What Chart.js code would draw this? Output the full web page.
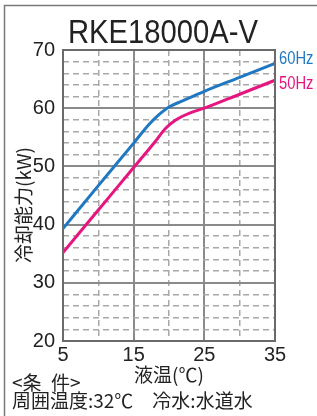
<!DOCTYPE html>
<html>
<head>
<meta charset="utf-8">
<script src="https://cdn.jsdelivr.net/npm/chart.js@4"></script>
<style>
  html, body { margin: 0; padding: 0; background: #fff; }
  #wrap { width: 317px; height: 416px; }
</style>
</head>
<body>
<div id="wrap"><canvas id="chart" width="317" height="416"></canvas></div>
<script>
// values
const tempX = [5, 10, 15, 17, 18.5, 20, 22, 25, 30, 35]
const cap60 = [39.3, 46.7, 54.0, 57.0, 58.8, 60.2, 61.3, 62.9, 65.3, 67.7]
const tempX50 = [5, 10, 15, 18, 19.5, 21, 23, 25, 30, 35]
const cap50 = [35.2, 42.5, 49.8, 54.2, 56.5, 58.0, 59.2, 60.0, 62.4, 64.8]
const seriesNames = ['60Hz', '50Hz']
const seriesColors = ['#1f78c1', '#e6157f']

const titleText = 'RKE18000A-V'
const yTitle = '冷却能力(kW)'
const xTitle = '液温(℃)'
const noteLines = ['<条\u2002件>', '周囲温度:32℃　冷水:水道水']

const latin = '"Liberation Sans", Arial, sans-serif'
const cjk = '"Noto Sans CJK JP", sans-serif'

// text and frame drawn on top of the chart
const decor = {
    id: 'decor',
    afterDatasetsDraw(chart) {
        const ctx = chart.ctx
        const a = chart.chartArea
        ctx.save()
        // plot border
        ctx.strokeStyle = '#6a6a6a'
        ctx.lineWidth = 2
        ctx.strokeRect(a.left, a.top, a.right - a.left, a.bottom - a.top)
        // outer frame
        ctx.strokeStyle = '#7a7a7a'
        ctx.lineWidth = 1.5
        ctx.strokeRect(4.5, 5.5, 400, 500)

        ctx.fillStyle = '#222'
        // title (narrow look)
        ctx.save()
        ctx.font = '34px ' + latin
        ctx.textAlign = 'center'
        ctx.textBaseline = 'alphabetic'
        ctx.translate(163, 43)
        ctx.scale(0.86, 1)
        ctx.fillText(titleText, 0, 0)
        ctx.restore()

        // series labels at the right end
        const ys = chart.scales.y
        const ends = [cap60[cap60.length - 1], cap50[cap50.length - 1]]
        const offs = [-4, 4]
        seriesNames.forEach((name, i) => {
            ctx.save()
            ctx.fillStyle = seriesColors[i]
            ctx.font = '18px ' + latin
            ctx.textAlign = 'left'
            ctx.textBaseline = 'middle'
            ctx.translate(a.right + 4, ys.getPixelForValue(ends[i]) + offs[i])
            ctx.scale(0.82, 1)
            ctx.fillText(name, 0, 0)
            ctx.restore()
        })

        // axis titles
        ctx.font = '19px ' + cjk
        ctx.textAlign = 'center'
        ctx.textBaseline = 'middle'
        ctx.fillText(xTitle, 169, 375)
        ctx.save()
        ctx.translate(24, 205)
        ctx.rotate(-Math.PI / 2)
        ctx.fillText(yTitle, 0, 0)
        ctx.restore()

        // conditions
        ctx.textAlign = 'left'
        ctx.fillText(noteLines[0], 12, 383)
        ctx.fillText(noteLines[1], 12, 401)
        ctx.restore()
    }
}

const dashFor = (isMajor) => isMajor ? [] : [6, 4]

new Chart(document.getElementById('chart'), {
    type: 'line',
    data: {
        datasets: [
            {
                label: seriesNames[0],
                data: tempX.map((x, i) => ({x: x, y: cap60[i]})),
                borderColor: seriesColors[0],
                borderWidth: 3,
                pointRadius: 0,
                cubicInterpolationMode: 'monotone'
            },
            {
                label: seriesNames[1],
                data: tempX50.map((x, i) => ({x: x, y: cap50[i]})),
                borderColor: seriesColors[1],
                borderWidth: 3,
                pointRadius: 0,
                cubicInterpolationMode: 'monotone'
            }
        ]
    },
    options: {
        responsive: false,
        animation: false,
        layout: {padding: {left: 0, right: 42, top: 50, bottom: 0}},
        plugins: {legend: {display: false}, tooltip: {enabled: false}},
        scales: {
            x: {
                type: 'linear',
                min: 5,
                max: 35,
                afterFit: (s) => { s.height = 75 },
                ticks: {
                    stepSize: 5,
                    autoSkip: false,
                    maxRotation: 0,
                    padding: 2,
                    color: '#222',
                    font: {family: latin, size: 20},
                    callback: (v) => ((v - 5) % 10 === 0 ? v : '')
                },
                grid: {
                    drawTicks: false,
                    color: (c) => ((c.tick.value - 5) % 10 === 0 ? '#8a8a8a' : '#a8a8a8'),
                    lineWidth: (c) => ((c.tick.value - 5) % 10 === 0 ? 2 : 1.5)
                },
                border: {
                    display: false,
                    dash: (c) => dashFor((c.tick.value - 5) % 10 === 0)
                }
            },
            y: {
                min: 20,
                max: 70,
                afterFit: (s) => { s.width = 63 },
                ticks: {
                    stepSize: 2,
                    autoSkip: false,
                    padding: 8,
                    color: '#222',
                    font: {family: latin, size: 20},
                    callback: (v) => (v % 10 === 0 ? v : '')
                },
                grid: {
                    drawTicks: false,
                    color: (c) => (c.tick.value % 10 === 0 ? '#8a8a8a' : '#a8a8a8'),
                    lineWidth: (c) => (c.tick.value % 10 === 0 ? 2 : 1.5)
                },
                border: {
                    display: false,
                    dash: (c) => dashFor(c.tick.value % 10 === 0)
                }
            }
        }
    },
    plugins: [decor]
})
</script>
</body>
</html>
